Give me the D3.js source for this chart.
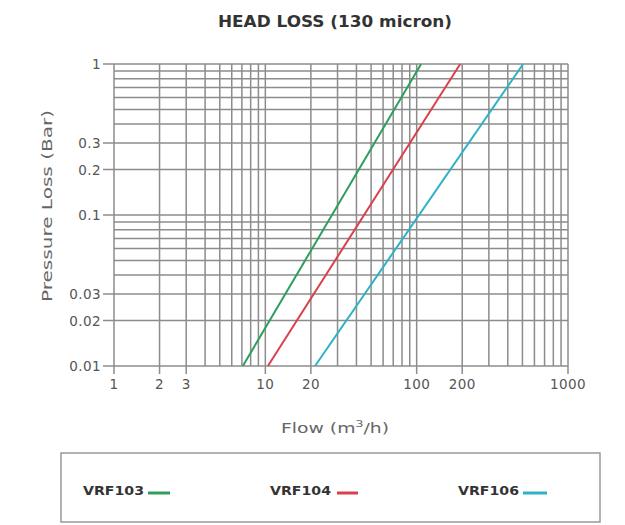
<!DOCTYPE html>
<html>
<meta charset="utf-8">
<style>
  body { margin: 0; background: #fff; }
  text { font-family: "DejaVu Sans", sans-serif; }
  .grid line { stroke: #8c8c8c; stroke-width: 1.5; }
  .tick-lab { fill: #555; font-size: 13.5px; letter-spacing: 0.4px; }
  .axis-title { fill: #666; font-size: 13.5px; }
</style>
<body>
<script src="https://d3js.org/d3.v7.min.js"></script>
<script>
  let width = 625,
    height = 525;

  // flow (m3/h) and pressure loss (bar) where each line meets the chart edges
  let series = ["VRF103", "VRF104", "VRF106"];
  let colors = ["#2e9e5e", "#d9404c", "#2eb2c6"];
  let flowAtBottom = [7.1, 10.4, 21.3];
  let flowAtTop = [107, 194, 505];
  let lossRange = [0.01, 1];

  let xTickLabels = [1, 2, 3, 10, 20, 100, 200, 1000];
  let yTickLabels = [1, 0.3, 0.2, 0.1, 0.03, 0.02, 0.01];

  let x = d3.scaleLog().domain([1, 1000]).range([114, 568]);
  let y = d3.scaleLog().domain([0.01, 1]).range([366, 64]);

  let svg = d3.select("body").append("svg")
    .attr("width", width)
    .attr("height", height);

  // title
  svg.append("text")
    .attr("x", 335)
    .attr("y", 27)
    .attr("text-anchor", "middle")
    .attr("font-size", "15px")
    .attr("font-weight", "bold")
    .attr("fill", "#333")
    .attr("textLength", 234)
    .attr("lengthAdjust", "spacingAndGlyphs")
    .text("HEAD LOSS (130 micron)");

  // grid
  let grid = svg.append("g").attr("class", "grid");
  grid.selectAll(".v")
    .data(x.ticks())
    .join("line")
    .attr("x1", d => x(d)).attr("x2", d => x(d))
    .attr("y1", y(1)).attr("y2", d => xTickLabels.includes(d) ? y(0.01) + 8 : y(0.01));
  grid.selectAll(".h")
    .data(y.ticks())
    .join("line")
    .attr("y1", d => y(d)).attr("y2", d => y(d))
    .attr("x1", d => yTickLabels.some(v => Math.abs(v - d) < 1e-9) ? x(1) - 11 : x(1))
    .attr("x2", x(1000));

  // tick labels
  svg.selectAll(".xl")
    .data(xTickLabels)
    .join("text")
    .attr("class", "tick-lab")
    .attr("x", d => x(d))
    .attr("y", 389)
    .attr("text-anchor", "middle")
    .text(d => d);

  svg.selectAll(".yl")
    .data(yTickLabels)
    .join("text")
    .attr("class", "tick-lab")
    .attr("x", 101)
    .attr("y", d => y(d) + 5)
    .attr("text-anchor", "end")
    .text(d => d);

  // axis titles
  svg.append("text")
    .attr("class", "axis-title")
    .attr("x", 335)
    .attr("y", 433)
    .attr("text-anchor", "middle")
    .attr("textLength", 108)
    .attr("lengthAdjust", "spacingAndGlyphs")
    .html("Flow (m<tspan font-size='9px' dy='-6'>3</tspan><tspan dy='6'>/h)</tspan>");

  svg.append("text")
    .attr("class", "axis-title")
    .attr("transform", "translate(52,206) rotate(-90)")
    .attr("text-anchor", "middle")
    .attr("textLength", 192)
    .attr("lengthAdjust", "spacingAndGlyphs")
    .text("Pressure Loss (Bar)");

  // lines
  let line = d3.line().x(d => x(d[0])).y(d => y(d[1]));
  svg.selectAll(".series")
    .data(series)
    .join("path")
    .attr("fill", "none")
    .attr("stroke", (d, i) => colors[i])
    .attr("stroke-width", 2)
    .attr("d", (d, i) => line([[flowAtBottom[i], lossRange[0]], [flowAtTop[i], lossRange[1]]]));

  // legend
  svg.append("rect")
    .attr("x", 61).attr("y", 453)
    .attr("width", 539).attr("height", 69)
    .attr("fill", "none")
    .attr("stroke", "#999")
    .attr("stroke-width", 1.5);

  let legendX = [83, 270, 458];
  let lg = svg.selectAll(".leg")
    .data(series)
    .join("g")
    .attr("transform", (d, i) => `translate(${legendX[i]},495)`);
  lg.append("text")
    .attr("font-size", "13px")
    .attr("font-weight", "bold")
    .attr("fill", "#333")
    .attr("textLength", 61)
    .attr("lengthAdjust", "spacingAndGlyphs")
    .text(d => d);
  lg.append("line")
    .attr("x1", (d, i) => [65, 67, 65][i])
    .attr("x2", (d, i) => [87, 88, 89][i])
    .attr("y1", -2).attr("y2", -2)
    .attr("stroke", (d, i) => colors[i])
    .attr("stroke-width", 3);
</script>
</body>
</html>
